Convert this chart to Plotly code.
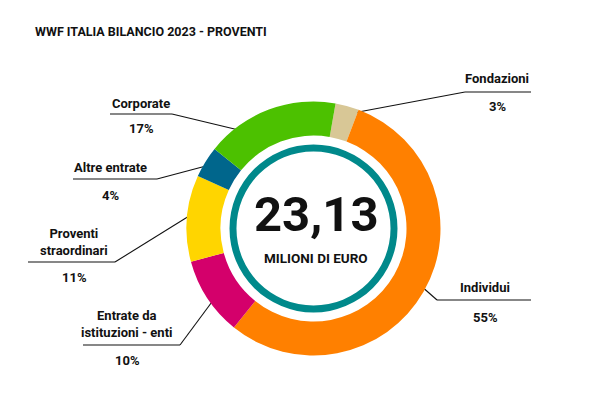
import plotly.graph_objects as go

# ---- data ----
categories = ["Fondazioni", "Individui", "Entrate da<br>istituzioni - enti",
              "Proventi<br>straordinari", "Altre entrate", "Corporate"]
percent = [3, 55, 10, 11, 4, 17]
colors = ["#D8C796", "#FF8000", "#D4006B", "#FFD500", "#00668C", "#4CC100"]
total_label = "23,13"
total_unit = "MILIONI DI EURO"
title = "WWF ITALIA BILANCIO 2023 - PROVENTI"

# ---- layout helpers (pixel positions) ----
W, H = 600, 398
CX, CY, R = 313.5, 228.5, 127
HOLE = 93 / 127
TEAL_R, TEAL_W = 84, 7

def px_dom(cx, cy, r):
    return dict(x=[(cx - r) / W, (cx + r) / W], y=[(H - cy - r) / H, (H - cy + r) / H])

# label placement: text center, pct center, underline x0,x1,y, elbow x, anchor in slice
labels_layout = [
    dict(tx=497, ty=78, py=106, ux0=465, ux1=531, uy=92, elbow=465, ax=353, ay=113),
    dict(tx=485, ty=287, py=317, ux0=437, ux1=531, uy=300, elbow=437, ax=412, ay=278),
    dict(tx=127, ty=324, py=360, ux0=83, ux1=180, uy=345, elbow=180, ax=223, ay=287),
    dict(tx=74, ty=242, py=277, ux0=28, ux1=115, uy=262, elbow=115, ax=202, ay=208),
    dict(tx=110, ty=167, py=195, ux0=73, ux1=157, uy=179, elbow=157, ax=221, ay=162),
    dict(tx=141, ty=103, py=128, ux0=110, ux1=172, uy=114, elbow=172, ax=247, ay=132),
]

FONT = "Roboto, Liberation Sans, sans-serif"
LBL = dict(family=FONT, size=13, color="#111111", weight=700)

fig = go.Figure()

fig.add_trace(go.Pie(
    values=percent, labels=categories, sort=False, direction="clockwise",
    rotation=10, hole=HOLE, marker=dict(colors=colors, line=dict(width=0)),
    textinfo="none", hoverinfo="label+percent", showlegend=False,
    domain=px_dom(CX, CY, R),
))

fig.add_trace(go.Pie(
    values=[sum(percent)], labels=["Totale"], sort=False,
    hole=(TEAL_R - TEAL_W) / TEAL_R, marker=dict(colors=["#00898B"], line=dict(width=0)),
    textinfo="none", hoverinfo="skip", showlegend=False,
    domain=px_dom(CX, CY, TEAL_R),
))

# leader lines
for lay in labels_layout:
    fig.add_trace(go.Scatter(
        x=[lay["ux0"], lay["ux1"], None, lay["elbow"], lay["ax"]],
        y=[lay["uy"], lay["uy"], None, lay["uy"], lay["ay"]],
        mode="lines", line=dict(color="#111111", width=1.1),
        hoverinfo="skip", showlegend=False, xaxis="x", yaxis="y",
    ))

annotations = []
for cat, p, lay in zip(categories, percent, labels_layout):
    annotations.append(dict(x=lay["tx"], y=lay["ty"], xref="x", yref="y", text=cat,
                            showarrow=False, font=LBL, align="center", yanchor="middle"))
    annotations.append(dict(x=lay["tx"], y=lay["py"], xref="x", yref="y", text=f"{p}%",
                            showarrow=False, font=LBL, align="center", yanchor="middle"))

annotations.append(dict(x=316, y=214, xref="x", yref="y", text=f"<b>{total_label}</b>",
                        showarrow=False, yanchor="middle",
                        font=dict(family=FONT, size=49, color="#111111", weight=700)))
annotations.append(dict(x=316, y=258, xref="x", yref="y", text=f"<b>{total_unit}</b>",
                        showarrow=False, yanchor="middle",
                        font=dict(family=FONT, size=13.5, color="#111111", weight=700)))
annotations.append(dict(x=33, y=31, xref="x", yref="y", text=f"<b>{title}</b>",
                        xanchor="left", yanchor="middle", showarrow=False,
                        font=dict(family=FONT, size=12.5, color="#111111", weight=700)))

fig.update_layout(
    width=W, height=H, margin=dict(l=0, r=0, t=0, b=0),
    paper_bgcolor="white", plot_bgcolor="rgba(0,0,0,0)",
    xaxis=dict(range=[0, W], visible=False, fixedrange=True, domain=[0, 1]),
    yaxis=dict(range=[H, 0], visible=False, fixedrange=True, domain=[0, 1]),
    annotations=annotations, showlegend=False,
)

fig.write_html("out.html", config={"displayModeBar": False},
               post_script="document.body.style.margin='0';")
